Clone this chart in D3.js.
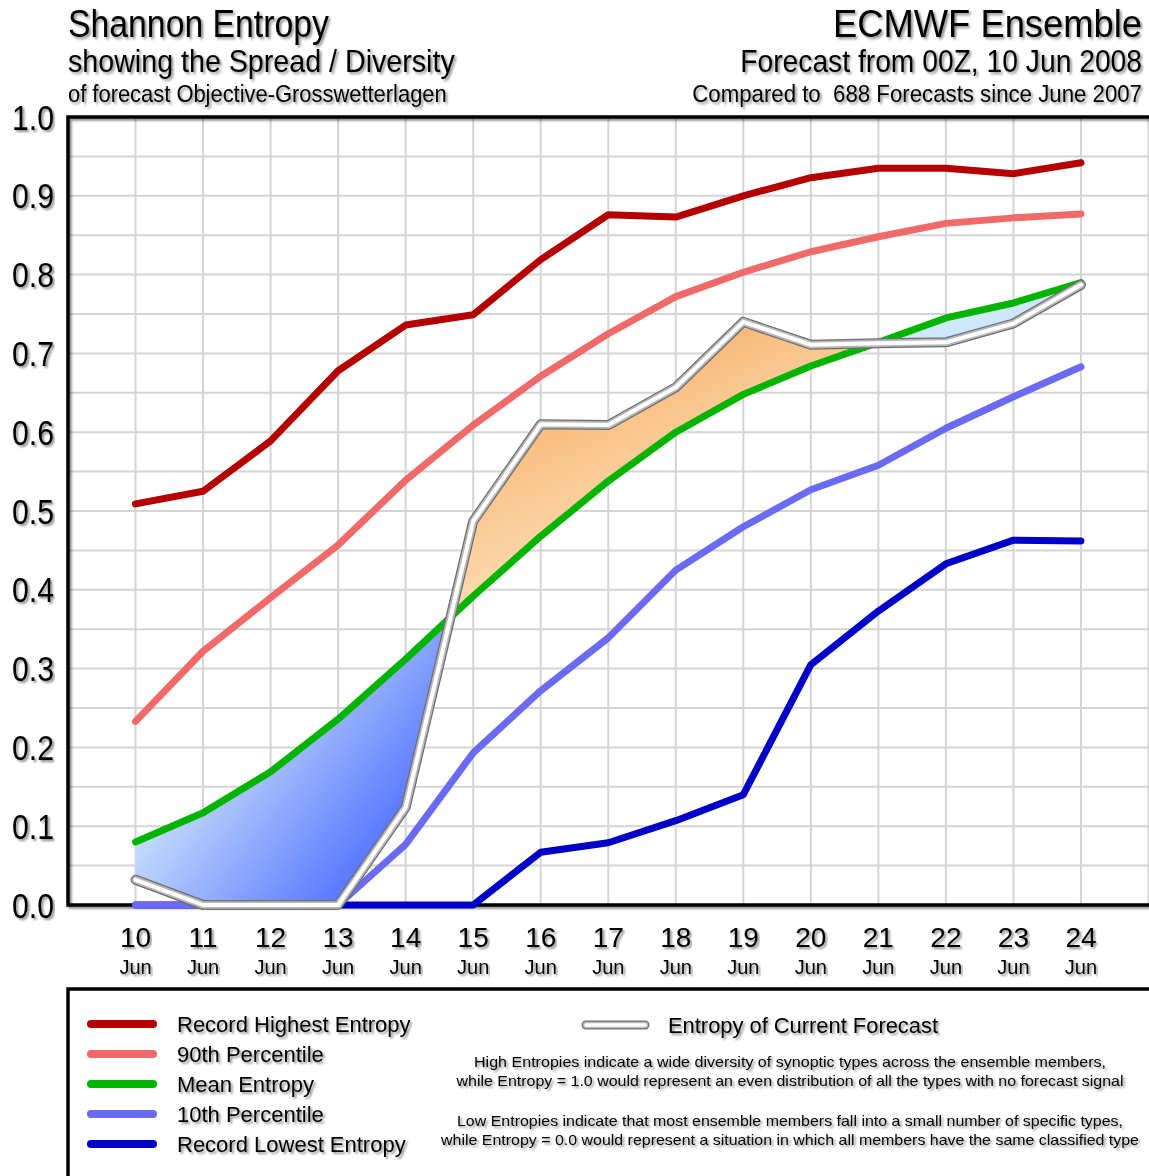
<html>
<head>
<meta charset="utf-8">
<script src="https://d3js.org/d3.v7.min.js"></script>
<style>
  body { margin: 0; background: white; }
  text { font-family: "Liberation Sans", Arial, sans-serif; fill: #000; white-space: pre; }
</style>
</head>
<body>
<div id="graph"></div>
<script>
// forecast days (June 2008)
const days = [10, 11, 12, 13, 14, 15, 16, 17, 18, 19, 20, 21, 22, 23, 24];
const dayLabels = ['10', '11', '12', '13', '14', '15', '16', '17', '18', '19', '20', '21', '22', '23', '24'];
const monthLabel = 'Jun';
const yTicks = [0, 0.1, 0.2, 0.3, 0.4, 0.5, 0.6, 0.7, 0.8, 0.9, 1.0];

// entropy series
const recordHighest = [0.509, 0.525, 0.589, 0.678, 0.736, 0.749, 0.819, 0.876, 0.873, 0.900, 0.923, 0.935, 0.935, 0.928, 0.942];
const pct90 = [0.233, 0.322, 0.390, 0.457, 0.539, 0.609, 0.671, 0.725, 0.772, 0.803, 0.829, 0.848, 0.865, 0.872, 0.877];
const meanEntropy = [0.080, 0.117, 0.169, 0.236, 0.312, 0.392, 0.468, 0.538, 0.600, 0.648, 0.684, 0.714, 0.745, 0.764, 0.790];
const pct10 = [0, 0, 0, 0, 0.077, 0.193, 0.272, 0.339, 0.425, 0.480, 0.527, 0.558, 0.605, 0.645, 0.683];
const recordLowest = [0, 0, 0, 0, 0, 0, 0.067, 0.079, 0.107, 0.140, 0.305, 0.373, 0.433, 0.463, 0.462];
const current = [0.032, 0, 0, 0, 0.124, 0.487, 0.610, 0.609, 0.657, 0.740, 0.711, 0.713, 0.714, 0.738, 0.787];

const series = [
  {name: 'Record Highest Entropy', values: recordHighest, color: '#b40000'},
  {name: '90th Percentile', values: pct90, color: '#f06a6a'},
  {name: 'Mean Entropy', values: meanEntropy, color: '#00b400'},
  {name: '10th Percentile', values: pct10, color: '#6a6af2'},
  {name: 'Record Lowest Entropy', values: recordLowest, color: '#0000c8'}
];
const drawOrder = [4, 3, 1, 0, 2];

const notes = [
  'High Entropies indicate a wide diversity of synoptic types across the ensemble members,',
  'while Entropy = 1.0 would represent an even distribution of all the types with no forecast signal',
  'Low Entropies indicate that most ensemble members fall into a small number of specific types,',
  'while Entropy = 0.0 would represent a situation in which all members have the same classified type'
];

var W = 1149, H = 1176;
var svg = d3.select('#graph').append('svg')
  .attr('width', W).attr('height', H);

var defs = svg.append('defs');
var f = defs.append('filter').attr('id', 'shadow')
  .attr('x', '-2%').attr('y', '-20%').attr('width', '104%').attr('height', '160%');
f.append('feGaussianBlur').attr('in', 'SourceAlpha').attr('stdDeviation', 1.3).attr('result', 'b');
f.append('feOffset').attr('in', 'b').attr('dx', 2).attr('dy', 2).attr('result', 'o');
f.append('feComponentTransfer').attr('in', 'o').attr('result', 'o2')
  .append('feFuncA').attr('type', 'linear').attr('slope', 0.45);
var fm = f.append('feMerge');
fm.append('feMergeNode').attr('in', 'o2');
fm.append('feMergeNode').attr('in', 'SourceGraphic');

// scales
var x = d3.scaleLinear().domain([9, 25]).range([68, 1148.5]);
var y = d3.scaleLinear().domain([0, 1]).range([905, 117]);

// titles: narrow glyphs, fit to width then stretch vertically
function label(g, txt, x0, yb, size, len, anchorEnd) {
  var t = g.append('text').attr('font-size', size).text(txt);
  var w = t.node().getComputedTextLength();
  var s2 = size * len / w;
  t.attr('font-size', s2)
    .attr('text-anchor', anchorEnd ? 'end' : 'start')
    .attr('transform', 'translate(' + x0 + ',' + yb + ') scale(1,' + (size / s2) + ')')
    .attr('filter', 'url(#shadow)');
  return t;
}
var titles = svg.append('g');
label(titles, 'Shannon Entropy', 68, 37, 39, 261);
label(titles, 'showing the Spread / Diversity', 68, 72, 31, 387);
label(titles, 'of forecast Objective-Grosswetterlagen', 68, 102, 24, 379);
label(titles, 'ECMWF Ensemble', 1142, 37, 39, 309, true);
label(titles, 'Forecast from 00Z, 10 Jun 2008', 1142, 72, 31, 402, true);
label(titles, 'Compared to  688 Forecasts since June 2007', 1142, 102, 24, 450, true);

// grid
var grid = svg.append('g').attr('stroke', '#d4d4d4').attr('stroke-width', 2);
d3.range(1, 20).forEach(function (k) {
  grid.append('line').attr('x1', 68).attr('x2', 1160)
    .attr('y1', y(k * 0.05)).attr('y2', y(k * 0.05));
});
d3.range(10, 26).forEach(function (d) {
  grid.append('line').attr('x1', x(d)).attr('x2', x(d))
    .attr('y1', 117).attr('y2', 905);
});

// fills between current forecast and mean
var pts = days.map(function (d, i) { return {x: d, c: current[i], m: meanEntropy[i]}; });
var segs = [], seg = [pts[0]], sign = Math.sign(pts[0].c - pts[0].m);
for (var i = 1; i < pts.length; i++) {
  var a = pts[i - 1], b = pts[i];
  var da = a.c - a.m, db = b.c - b.m;
  if (da * db < 0) {
    var t = da / (da - db);
    var p = {x: a.x + t * (b.x - a.x), c: a.c + t * (b.c - a.c)};
    p.m = p.c;
    seg.push(p);
    segs.push({sign: sign, pts: seg});
    seg = [p];
    sign = Math.sign(db);
  }
  seg.push(b);
}
segs.push({sign: sign, pts: seg});

var area = d3.area().x(function (d) { return x(d.x); })
  .y0(function (d) { return y(d.m); }).y1(function (d) { return y(d.c); });

segs.forEach(function (s, k) {
  var maxDiff = d3.max(s.pts, function (d) { return Math.abs(d.c - d.m); });
  var gid = 'g' + k;
  var lg = defs.append('linearGradient').attr('id', gid);
  if (s.sign < 0) {
    var strong = maxDiff > 0.1;
    lg.attr('x1', 0).attr('y1', 0).attr('x2', 1).attr('y2', 0.7);
    lg.append('stop').attr('offset', '0%').attr('stop-color', '#f6fbff');
    lg.append('stop').attr('offset', '30%').attr('stop-color', strong ? '#d4e9fd' : '#dcefff');
    lg.append('stop').attr('offset', '100%').attr('stop-color', strong ? '#4264ff' : '#c2e0f8');
  } else {
    lg.attr('x1', 0.15).attr('y1', 0.1).attr('x2', 0.75).attr('y2', 1);
    lg.append('stop').attr('offset', '0%').attr('stop-color', '#f6a65a');
    lg.append('stop').attr('offset', '35%').attr('stop-color', '#fac68e');
    lg.append('stop').attr('offset', '100%').attr('stop-color', '#fffbe4');
  }
  svg.append('path').datum(s.pts).attr('d', area).attr('fill', 'url(#' + gid + ')');
});

// frame
svg.append('path')
  .attr('d', 'M1160,' + y(1) + 'H' + x(9) + 'V' + y(0) + 'H1160')
  .attr('fill', 'none').attr('stroke', '#000').attr('stroke-width', 3.5)
  .attr('filter', 'url(#shadow)');

// y tick labels
var yl = svg.append('g');
yTicks.forEach(function (v) {
  yl.append('text').attr('x', 12).attr('y', y(v) + 12.5)
    .attr('font-size', 35).attr('textLength', 42).attr('lengthAdjust', 'spacingAndGlyphs')
    .attr('filter', 'url(#shadow)')
    .text(d3.format('.1f')(v));
});

// x tick labels
var xl = svg.append('g').attr('text-anchor', 'middle');
days.forEach(function (d, i) {
  xl.append('text').attr('x', x(d)).attr('y', 947).attr('font-size', 28)
    .attr('filter', 'url(#shadow)').text(dayLabels[i]);
  xl.append('text').attr('x', x(d)).attr('y', 974).attr('font-size', 20)
    .attr('filter', 'url(#shadow)').text(monthLabel);
});

// lines
var line = d3.line().x(function (d, i) { return x(days[i]); }).y(function (d) { return y(d); });
drawOrder.forEach(function (k) {
  svg.append('path').datum(series[k].values).attr('d', line)
    .attr('fill', 'none').attr('stroke', series[k].color).attr('stroke-width', 7)
    .attr('stroke-linejoin', 'round').attr('stroke-linecap', 'round');
});

// current forecast line
[['#6f6f6f', 10], ['#b8b8b8', 7.5], ['#ffffff', 4]].forEach(function (st) {
  svg.append('path').datum(current).attr('d', line)
    .attr('fill', 'none').attr('stroke', st[0]).attr('stroke-width', st[1])
    .attr('stroke-linejoin', 'round').attr('stroke-linecap', 'round');
});

// legend box
var lgd = svg.append('g');
lgd.append('rect').attr('x', 68).attr('y', 989).attr('width', 1100).attr('height', 220)
  .attr('fill', '#fff').attr('stroke', '#000').attr('stroke-width', 3.5)
  .attr('filter', 'url(#shadow)');
series.forEach(function (s, i) {
  var yy = 1024 + i * 30;
  lgd.append('line').attr('x1', 91).attr('x2', 153).attr('y1', yy).attr('y2', yy)
    .attr('stroke', s.color).attr('stroke-width', 8).attr('stroke-linecap', 'round');
  lgd.append('text').attr('x', 177).attr('y', yy + 8).attr('font-size', 22)
    .attr('filter', 'url(#shadow)').text(s.name);
});
[['#6f6f6f', 9], ['#b8b8b8', 6.5], ['#ffffff', 3.5]].forEach(function (st) {
  lgd.append('line').attr('x1', 586).attr('x2', 645).attr('y1', 1025).attr('y2', 1025)
    .attr('stroke', st[0]).attr('stroke-width', st[1]).attr('stroke-linecap', 'round');
});
lgd.append('text').attr('x', 668).attr('y', 1033).attr('font-size', 22)
  .attr('textLength', 270).attr('lengthAdjust', 'spacingAndGlyphs')
  .attr('filter', 'url(#shadow)').text('Entropy of Current Forecast');

var noteY = [1067, 1086, 1126, 1145];
var noteLen = [632, 667, 666, 698];
notes.forEach(function (n, i) {
  lgd.append('text').attr('x', 790 - noteLen[i] / 2).attr('y', noteY[i]).attr('font-size', 15)
    .attr('textLength', noteLen[i]).attr('lengthAdjust', 'spacingAndGlyphs')
    .attr('filter', 'url(#shadow)').text(n);
});
</script>
</body>
</html>
